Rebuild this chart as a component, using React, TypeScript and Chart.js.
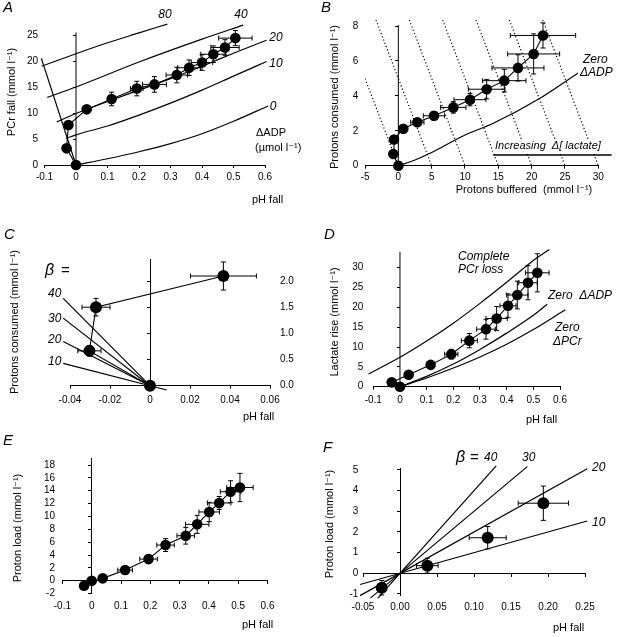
import React, { useEffect, useRef } from 'react';
import { Chart, registerables } from 'chart.js';

Chart.register(...registerables);

const SANS = "'Liberation Sans', Arial, 'DejaVu Sans', sans-serif";
const fnt = (size: number, italic = false) => `${italic ? 'italic ' : ''}${size}px ${SANS}`;

// ================= Panel A : PCr fall vs pH fall =================
const A_PH = [0, -0.03, -0.024, 0.034, 0.113, 0.193, 0.249, 0.32, 0.359, 0.4, 0.436, 0.473, 0.506];
const A_PCR = [0, 3.2, 7.7, 10.7, 12.7, 14.7, 15.5, 17.3, 18.7, 19.7, 21.3, 22.6, 24.4];
const A_PH_ERR = [0, 0, 0, 0, 0.01, 0.02, 0.038, 0.034, 0.036, 0.034, 0.04, 0.045, 0.053];
const A_PCR_ERR = [0, 0, 0, 0.6, 1.3, 1.4, 1.5, 1.5, 1.5, 1.5, 1.6, 1.5, 1.45];
const A_ADP_0 = [[0, 0], [0.1, 1.2], [0.2, 2.55], [0.3, 4.1], [0.4, 6.0], [0.5, 8.4], [0.61, 11.35]];
const A_ADP_10 = [[-0.032, 5.1], [0, 5.8], [0.1, 7.5], [0.2, 9.6], [0.3, 11.9], [0.4, 14.4], [0.5, 17.1], [0.605, 19.9]];
const A_ADP_20 = [[-0.061, 8.3], [0, 9.9], [0.1, 12.2], [0.2, 14.4], [0.3, 16.6], [0.4, 19.0], [0.5, 21.5], [0.605, 24.0]];
const A_ADP_40 = [[-0.091, 13.0], [0, 15.0], [0.2, 19.8], [0.4, 24.2], [0.531, 26.9]];
const A_ADP_80 = [[-0.109, 19.0], [0, 21.4], [0.1, 23.5], [0.2, 25.4], [0.29, 27.1]];
const A_LIMIT = [[-0.11, 20.5], [0, 0]];
const A_VAXIS = [[0, 0], [0, 25.5]];
const A_X_TICKS = [-0.1, 0, 0.1, 0.2, 0.3, 0.4, 0.5, 0.6];
const A_Y_TICKS = [0, 5, 10, 15, 20, 25];

// ================= Panel B : protons consumed vs buffered =================
const B_BUF = [0, -0.75, -0.65, 0.75, 2.85, 5.35, 8.25, 10.75, 13.25, 15.9, 17.95, 20.3, 21.7];
const B_CONS = [0, 0.67, 1.5, 2.12, 2.49, 2.86, 3.34, 3.78, 4.38, 4.87, 5.6, 6.4, 7.46];
const B_BUF_ERR = [0, 0, 0, 0.5, 1.0, 1.6, 1.9, 2.4, 2.75, 3.25, 3.9, 3.9, 4.9];
const B_CONS_ERR = [0, 0, 0, 0.12, 0.2, 0.24, 0.33, 0.35, 0.55, 0.65, 0.75, 1.15, 0.72];
const B_ZERO_ADP = [[0, 0], [2.5, 0.33], [4.77, 0.71], [10, 1.76], [14.25, 2.43], [21.25, 3.86], [27.25, 5.38]];
const B_LACTATE_ISO = [
  [[-5, 5], [0, 0]],
  [[-3.35, 8.35], [5, 0]],
  [[1.65, 8.35], [10, 0]],
  [[6.65, 8.35], [15, 0]],
  [[11.65, 8.35], [20, 0]],
  [[16.65, 8.35], [25, 0]],
  [[21.65, 8.35], [30, 0]],
];
const B_ARROW = [[14.25, 0.61], [32.0, 0.61]];
const B_VAXIS = [[0, 0], [0, 8.05]];
const B_X_TICKS = [-5, 0, 5, 10, 15, 20, 25, 30];
const B_Y_TICKS = [0, 2, 4, 6, 8];

// ================= Panel C : early protons consumed =================
const C_PH = [0, -0.0303, -0.027, 0.0367];
const C_CONS = [0, 0.67, 1.51, 2.11];
const C_PH_ERR = [0, 0.0058, 0.007, 0.0165];
const C_CONS_ERR = [0, 0.1, 0.17, 0.27];
const C_BETA_40 = [[-0.0434, 1.68], [0, 0]];
const C_BETA_30 = [[-0.0434, 1.3], [0, 0]];
const C_BETA_20 = [[-0.0434, 0.85], [0, 0]];
const C_BETA_10 = [[-0.0434, 0.43], [0.0083, -0.083]];
const C_X_TICKS = [-0.04, -0.02, 0, 0.02, 0.04, 0.06];
const C_Y_TICKS = [0, 0.5, 1, 1.5, 2];

// ================= Panel D : lactate rise =================
const D_PH = [0, -0.031, 0.0325, 0.115, 0.1925, 0.26, 0.3225, 0.3625, 0.405, 0.44, 0.48, 0.515];
const D_LAC = [0, 1.1, 3.0, 5.5, 8.2, 11.6, 14.5, 17.2, 20.4, 23.1, 26.2, 28.7];
const D_PH_ERR = [0, 0, 0, 0, 0.025, 0.03, 0.035, 0.04, 0.03, 0.04, 0.035, 0.044];
const D_LAC_ERR = [0, 0, 0, 0, 1.2, 1.8, 2.5, 3.0, 3.0, 3.5, 4.3, 4.8];
const D_COMPLETE = [[-0.118, 3.2], [0, 7.4], [0.1, 11.5], [0.2, 16.0], [0.3, 21.0], [0.4, 26.3], [0.5, 31.8], [0.56, 34.6]];
const D_ZERO_ADP = [[0, 0], [0.1, 2.6], [0.2, 5.7], [0.3, 9.4], [0.4, 13.5], [0.5, 18.0], [0.552, 20.8]];
const D_ZERO_PCR = [[0, 0], [0.1, 2.2], [0.2, 4.7], [0.3, 7.5], [0.4, 10.7], [0.5, 14.4], [0.62, 19.4]];
const D_VAXIS = [[0, 0], [0, 34]];
const D_X_TICKS = [-0.1, 0, 0.1, 0.2, 0.3, 0.4, 0.5, 0.6];
const D_Y_TICKS = [0, 5, 10, 15, 20, 25, 30];

// ================= Panel E : proton load =================
const E_PH = [0, -0.026, 0.0375, 0.114, 0.194, 0.252, 0.321, 0.36, 0.401, 0.435, 0.474, 0.506];
const E_LOAD = [0, -0.78, 0.37, 1.66, 3.37, 5.55, 7.0, 8.77, 10.7, 12.1, 13.85, 14.5];
const E_PH_ERR = [0, 0, 0, 0.025, 0.03, 0.03, 0.03, 0.04, 0.035, 0.04, 0.035, 0.045];
const E_LOAD_ERR = [0, 0, 0, 0, 0.6, 1.0, 1.3, 1.4, 1.5, 1.0, 1.7, 2.2];
const E_X_TICKS = [-0.1, 0, 0.1, 0.2, 0.3, 0.4, 0.5, 0.6];
const E_Y_TICKS = [-2, 0, 2, 4, 6, 8, 10, 12, 14, 16, 18];

// ================= Panel F : early proton load =================
const F_PH = [-0.0247, 0.0369, 0.1185, 0.1937];
const F_LOAD = [-0.7, 0.37, 1.72, 3.39];
const F_PH_ERR = [0.006, 0.0146, 0.025, 0.034];
const F_LOAD_ERR = [0.35, 0.36, 0.54, 0.83];
const F_BETA_40 = [[-0.03, -1.2], [0.13, 5.2]];
const F_BETA_30 = [[-0.04, -1.2], [0.172, 5.16]];
const F_BETA_20 = [[-0.054, -1.08], [0.253, 5.06]];
const F_BETA_10 = [[-0.054, -0.54], [0.253, 2.53]];
const F_X_TICKS = [-0.05, 0, 0.05, 0.1, 0.15, 0.2, 0.25];
const F_Y_TICKS = [-1, 0, 1, 2, 3, 4, 5];

// ================= helpers =================
const toPts = (pairs: number[][]) => pairs.map(([x, y]) => ({ x, y }));

const curve = (pairs: number[][], extra: any = {}) => ({
  data: toPts(pairs),
  borderColor: '#000',
  borderWidth: 1.2,
  pointRadius: 0,
  fill: false,
  clip: false,
  cubicInterpolationMode: 'monotone',
  ...extra,
});
const straight = (pairs: number[][], extra: any = {}) =>
  curve(pairs, { cubicInterpolationMode: 'default', tension: 0, ...extra });

const markers = (xs: number[], ys: number[], xe: number[], ye: number[], r: number, showLine = true) => ({
  data: xs.map((x, i) => ({ x, y: ys[i] })),
  errX: xe,
  errY: ye,
  showLine,
  borderColor: '#000',
  borderWidth: 1.1,
  pointRadius: r,
  pointBackgroundColor: '#000',
  pointBorderColor: '#000',
  pointBorderWidth: 0,
  tension: 0,
  clip: false,
});

const fmtDec1 = (v: number) => (v === 0 ? '0' : v.toFixed(1));
const fmtDec2 = (v: number) => (v === 0 ? '0' : v.toFixed(2));
const fmtInt = (v: number) => String(v);
const fmtFix1 = (v: number) => v.toFixed(1);
const fmtFix2 = (v: number) => v.toFixed(2);

type Txt = { t: string; x: number; y: number; font: string; align?: CanvasTextAlign; rot?: number; bg?: boolean };

type PanelSpec = {
  left: number; top: number; w: number; h: number;
  area: { l: number; t: number; r: number; b: number };
  xMin: number; xMax: number; xTicks: number[]; xFmt: (v: number) => string;
  yMin: number; yMax: number; yTicks: number[]; yFmt: (v: number) => string;
  ySide: 'left' | 'right';
  xBottomLine: boolean; xBottomTicks: boolean; xZero: boolean;
  yZeroTicks: boolean; yZeroLine: boolean;
  xPad: number; yPad: number; tickSize: number;
  datasets: any[];
  texts: Txt[];
};

const yTitle = (t: string, x: number, y: number): Txt => ({ t, x, y, font: fnt(11), align: 'center', rot: -90 });

const PANELS: PanelSpec[] = [
  {
    left: 0, top: 0, w: 310, h: 210,
    area: { l: 44.5, t: 24.6, r: 265, b: 165 },
    xMin: -0.1, xMax: 0.6, xTicks: A_X_TICKS, xFmt: fmtDec1,
    yMin: 0, yMax: 27, yTicks: A_Y_TICKS, yFmt: fmtInt, ySide: 'left',
    xBottomLine: true, xBottomTicks: true, xZero: false, yZeroTicks: true, yZeroLine: false,
    xPad: 3, yPad: 6.5, tickSize: 10,
    datasets: [
      markers(A_PH, A_PCR, A_PH_ERR, A_PCR_ERR, 5.3),
      curve(A_ADP_0), curve(A_ADP_10), curve(A_ADP_20), curve(A_ADP_40), curve(A_ADP_80),
      straight(A_LIMIT), straight(A_VAXIS, { borderWidth: 1 }),
    ],
    texts: [
      { t: 'A', x: 3, y: 8, font: fnt(15, true) },
      yTitle('PCr fall (mmol l⁻¹)', 12, 92),
      { t: 'pH fall', x: 252, y: 200, font: fnt(11) },
      { t: '80', x: 165, y: 15, font: fnt(12, true), align: 'center' },
      { t: '40', x: 241, y: 15, font: fnt(12, true), align: 'center' },
      { t: '20', x: 276, y: 38, font: fnt(12, true), align: 'center' },
      { t: '10', x: 276, y: 64, font: fnt(12, true), align: 'center' },
      { t: '0', x: 273, y: 107, font: fnt(12, true), align: 'center' },
      { t: 'ΔADP', x: 256, y: 133, font: fnt(11) },
      { t: '(µmol l⁻¹)', x: 255, y: 148, font: fnt(11) },
    ],
  },
  {
    left: 310, top: 0, w: 314, h: 210,
    area: { l: 55, t: 19.9, r: 288.3, b: 165.7 },
    xMin: -5, xMax: 30, xTicks: B_X_TICKS, xFmt: fmtInt,
    yMin: 0, yMax: 8.35, yTicks: B_Y_TICKS, yFmt: fmtInt, ySide: 'left',
    xBottomLine: true, xBottomTicks: true, xZero: false, yZeroTicks: true, yZeroLine: false,
    xPad: 3, yPad: 6.7, tickSize: 10,
    datasets: [
      markers(B_BUF, B_CONS, B_BUF_ERR, B_CONS_ERR, 5.3),
      curve(B_ZERO_ADP),
      ...B_LACTATE_ISO.map((seg) => straight(seg, { borderDash: [1.2, 2.3], borderWidth: 1.2, clip: 0 })),
      straight(B_VAXIS, { borderWidth: 1 }),
      straight(B_ARROW, { borderWidth: 1.4 }),
      {
        data: toPts([B_ARROW[1]]), showLine: false, pointStyle: 'triangle', pointRotation: 90,
        pointRadius: 4.5, pointBackgroundColor: '#000', pointBorderColor: '#000', clip: false,
      },
    ],
    texts: [
      { t: 'B', x: 11, y: 8, font: fnt(15, true) },
      yTitle('Protons consumed (mmol l⁻¹)', 25, 97),
      { t: 'Protons buffered  (mmol l⁻¹)', x: 214, y: 190, font: fnt(11), align: 'center' },
      { t: 'Zero', x: 273, y: 60, font: fnt(12, true), bg: true },
      { t: 'ΔADP', x: 270, y: 73, font: fnt(12, true), bg: true },
      { t: 'Increasing  Δ[ lactate]', x: 185, y: 146, font: fnt(11, true), bg: true },
    ],
  },
  {
    left: 0, top: 210, w: 310, h: 215,
    area: { l: 70, t: 49.9, r: 270, b: 175.7 },
    xMin: -0.04, xMax: 0.06, xTicks: C_X_TICKS, xFmt: fmtDec2,
    yMin: 0, yMax: 2.42, yTicks: C_Y_TICKS, yFmt: fmtFix1, ySide: 'right',
    xBottomLine: true, xBottomTicks: true, xZero: false, yZeroTicks: true, yZeroLine: true,
    xPad: 6, yPad: 10, tickSize: 10,
    datasets: [
      markers(C_PH, C_CONS, C_PH_ERR, C_CONS_ERR, 6),
      straight(C_BETA_40), straight(C_BETA_30), straight(C_BETA_20), straight(C_BETA_10),
    ],
    texts: [
      { t: 'C', x: 4, y: 25, font: fnt(15, true) },
      yTitle('Protons consumed (mmol l⁻¹)', 15, 112),
      { t: 'pH fall', x: 243, y: 207, font: fnt(11) },
      { t: 'β', x: 45, y: 61, font: fnt(16, true) },
      { t: '=', x: 61, y: 61, font: fnt(15) },
      { t: '40', x: 48, y: 84, font: fnt(12, true) },
      { t: '30', x: 48, y: 109, font: fnt(12, true) },
      { t: '20', x: 48, y: 130, font: fnt(12, true) },
      { t: '10', x: 48, y: 152, font: fnt(12, true) },
    ],
  },
  {
    left: 310, top: 210, w: 314, h: 215,
    area: { l: 63.3, t: 39.4, r: 250, b: 176.7 },
    xMin: -0.1, xMax: 0.6, xTicks: D_X_TICKS, xFmt: fmtDec1,
    yMin: 0, yMax: 34.6, yTicks: D_Y_TICKS, yFmt: fmtInt, ySide: 'left',
    xBottomLine: true, xBottomTicks: true, xZero: false, yZeroTicks: true, yZeroLine: false,
    xPad: 5, yPad: 10, tickSize: 10,
    datasets: [
      markers(D_PH, D_LAC, D_PH_ERR, D_LAC_ERR, 5.3),
      curve(D_COMPLETE), curve(D_ZERO_ADP), curve(D_ZERO_PCR),
      straight(D_VAXIS, { borderWidth: 1 }),
    ],
    texts: [
      { t: 'D', x: 14, y: 25, font: fnt(15, true) },
      yTitle('Lactate rise (mmol l⁻¹)', 25, 112),
      { t: 'pH fall', x: 216, y: 210, font: fnt(11) },
      { t: 'Complete', x: 148, y: 47, font: fnt(12, true) },
      { t: 'PCr loss', x: 148, y: 60, font: fnt(12, true) },
      { t: 'Zero  ΔADP', x: 238, y: 86, font: fnt(12, true) },
      { t: 'Zero', x: 245, y: 118, font: fnt(12, true) },
      { t: 'ΔPCr', x: 243, y: 132, font: fnt(12, true) },
    ],
  },
  {
    left: 0, top: 425, w: 310, h: 212,
    area: { l: 62.4, t: 33.6, r: 267.5, b: 168.6 },
    xMin: -0.1, xMax: 0.6, xTicks: E_X_TICKS, xFmt: fmtDec1,
    yMin: -2, yMax: 19, yTicks: E_Y_TICKS, yFmt: fmtInt, ySide: 'left',
    xBottomLine: false, xBottomTicks: false, xZero: true, yZeroTicks: true, yZeroLine: true,
    xPad: 7, yPad: 7.4, tickSize: 10,
    datasets: [markers(E_PH, E_LOAD, E_PH_ERR, E_LOAD_ERR, 5.3)],
    texts: [
      { t: 'E', x: 3, y: 16, font: fnt(15, true) },
      yTitle('Proton load (mmol l⁻¹)', 18, 103),
      { t: 'pH fall', x: 242, y: 200, font: fnt(11) },
    ],
  },
  {
    left: 310, top: 425, w: 314, h: 212,
    area: { l: 53, t: 43.9, r: 275, b: 170 },
    xMin: -0.05, xMax: 0.25, xTicks: F_X_TICKS, xFmt: fmtFix2,
    yMin: -1.05, yMax: 5.05, yTicks: F_Y_TICKS, yFmt: fmtInt, ySide: 'left',
    xBottomLine: false, xBottomTicks: false, xZero: true, yZeroTicks: true, yZeroLine: true,
    xPad: 6.7, yPad: 4.7, tickSize: 10,
    datasets: [
      markers(F_PH, F_LOAD, F_PH_ERR, F_LOAD_ERR, 6, false),
      straight(F_BETA_40), straight(F_BETA_30), straight(F_BETA_20), straight(F_BETA_10),
    ],
    texts: [
      { t: 'F', x: 13, y: 23, font: fnt(15, true) },
      yTitle('Proton load (mmol l⁻¹)', 20, 99),
      { t: 'pH fall', x: 243, y: 203, font: fnt(11) },
      { t: 'β', x: 146, y: 33, font: fnt(16, true) },
      { t: '=', x: 160, y: 33, font: fnt(15) },
      { t: '40', x: 174, y: 33, font: fnt(12, true) },
      { t: '30', x: 212, y: 33, font: fnt(12, true) },
      { t: '20', x: 282, y: 43, font: fnt(12, true) },
      { t: '10', x: 282, y: 98, font: fnt(12, true) },
    ],
  },
];

const extrasPlugin = (texts: Txt[]) => ({
  id: 'extras',
  beforeDatasetsDraw(chart: any) {
    const ctx = chart.ctx;
    const xs = chart.scales.x;
    const ys = chart.scales.y;
    const cap = 2.5;
    ctx.save();
    ctx.strokeStyle = '#000';
    ctx.lineWidth = 1;
    chart.data.datasets.forEach((ds: any) => {
      if (!ds.errX && !ds.errY) return;
      ds.data.forEach((p: any, i: number) => {
        const px = xs.getPixelForValue(p.x);
        const py = ys.getPixelForValue(p.y);
        const ex = (ds.errX && ds.errX[i]) || 0;
        const ey = (ds.errY && ds.errY[i]) || 0;
        ctx.beginPath();
        if (ex) {
          const l = xs.getPixelForValue(p.x - ex);
          const r = xs.getPixelForValue(p.x + ex);
          ctx.moveTo(l, py); ctx.lineTo(r, py);
          ctx.moveTo(l, py - cap); ctx.lineTo(l, py + cap);
          ctx.moveTo(r, py - cap); ctx.lineTo(r, py + cap);
        }
        if (ey) {
          const t = ys.getPixelForValue(p.y + ey);
          const b = ys.getPixelForValue(p.y - ey);
          ctx.moveTo(px, t); ctx.lineTo(px, b);
          ctx.moveTo(px - cap, t); ctx.lineTo(px + cap, t);
          ctx.moveTo(px - cap, b); ctx.lineTo(px + cap, b);
        }
        ctx.stroke();
      });
    });
    ctx.restore();
  },
  afterDraw(chart: any) {
    const ctx = chart.ctx;
    ctx.save();
    ctx.textBaseline = 'middle';
    for (const tx of texts) {
      ctx.font = tx.font;
      ctx.textAlign = tx.align || 'left';
      ctx.save();
      ctx.translate(tx.x, tx.y);
      if (tx.rot) ctx.rotate((tx.rot * Math.PI) / 180);
      if (tx.bg) {
        const w = ctx.measureText(tx.t).width;
        const x0 = tx.align === 'center' ? -w / 2 : tx.align === 'right' ? -w : 0;
        ctx.fillStyle = '#fff';
        ctx.fillRect(x0 - 2, -7, w + 4, 14);
      }
      ctx.fillStyle = '#000';
      ctx.fillText(tx.t, 0, 0);
      ctx.restore();
    }
    ctx.restore();
  },
});

function buildConfig(s: PanelSpec): any {
  const tickFont = { family: SANS, size: s.tickSize };
  const setTicks = (vals: number[]) => (axis: any) => {
    axis.ticks = vals.map((v) => ({ value: v }));
  };
  const scales: any = {
    x: {
      type: 'linear', position: 'bottom', min: s.xMin, max: s.xMax,
      afterBuildTicks: setTicks(s.xTicks),
      afterFit: (a: any) => { a.height = s.h - s.area.b; },
      border: { display: s.xBottomLine, color: '#000', width: 1 },
      grid: { display: s.xBottomTicks, drawOnChartArea: false, drawTicks: s.xBottomTicks, tickLength: 3, color: '#000', lineWidth: 1 },
      ticks: { color: '#000', font: tickFont, padding: s.xPad, callback: (v: any) => s.xFmt(Number(v)), maxRotation: 0, minRotation: 0, autoSkip: false },
    },
    y: {
      type: 'linear', position: s.ySide, min: s.yMin, max: s.yMax,
      afterBuildTicks: setTicks(s.yTicks),
      afterFit: (a: any) => { a.width = s.ySide === 'left' ? s.area.l : s.w - s.area.r; },
      border: { display: false },
      grid: { display: false, drawTicks: false },
      ticks: { color: '#000', font: tickFont, padding: s.yPad, callback: (v: any) => s.yFmt(Number(v)), autoSkip: false },
    },
    yz: {
      type: 'linear', axis: 'y', position: { x: 0 }, min: s.yMin, max: s.yMax,
      afterBuildTicks: setTicks(s.yTicks),
      border: { display: s.yZeroLine, color: '#000', width: 1 },
      grid: { display: s.yZeroTicks, drawOnChartArea: false, drawTicks: true, tickLength: 3, color: '#000', lineWidth: 1 },
      ticks: { display: false },
    },
  };
  if (s.xZero) {
    scales.xz = {
      type: 'linear', axis: 'x', position: { y: 0 }, min: s.xMin, max: s.xMax,
      afterBuildTicks: setTicks(s.xTicks),
      border: { display: true, color: '#000', width: 1 },
      grid: { display: true, drawOnChartArea: false, drawTicks: true, tickLength: 3, color: '#000', lineWidth: 1 },
      ticks: { display: false },
    };
  }
  const leftAxis = s.ySide === 'left';
  return {
    type: 'line',
    data: { datasets: s.datasets },
    options: {
      responsive: false,
      maintainAspectRatio: false,
      animation: false,
      events: [],
      layout: {
        autoPadding: false,
        padding: {
          left: leftAxis ? 0 : s.area.l,
          right: leftAxis ? s.w - s.area.r : 0,
          top: s.area.t,
          bottom: 0,
        },
      },
      scales,
      plugins: { legend: { display: false }, tooltip: { enabled: false }, title: { display: false } },
    },
    plugins: [extrasPlugin(s.texts)],
  };
}

function Panel({ spec }: { spec: PanelSpec }) {
  const ref = useRef<HTMLCanvasElement>(null);
  useEffect(() => {
    if (!ref.current) return;
    const chart = new Chart(ref.current, buildConfig(spec));
    return () => chart.destroy();
  }, [spec]);
  return (
    <canvas
      ref={ref}
      width={spec.w}
      height={spec.h}
      style={{ position: 'absolute', left: spec.left, top: spec.top, width: spec.w, height: spec.h }}
    />
  );
}

export default function App() {
  return (
    <div style={{ position: 'absolute', left: 0, top: 0, width: 624, height: 637, background: '#fff', overflow: 'hidden' }}>
      {PANELS.map((p, i) => (
        <Panel key={i} spec={p} />
      ))}
    </div>
  );
}
